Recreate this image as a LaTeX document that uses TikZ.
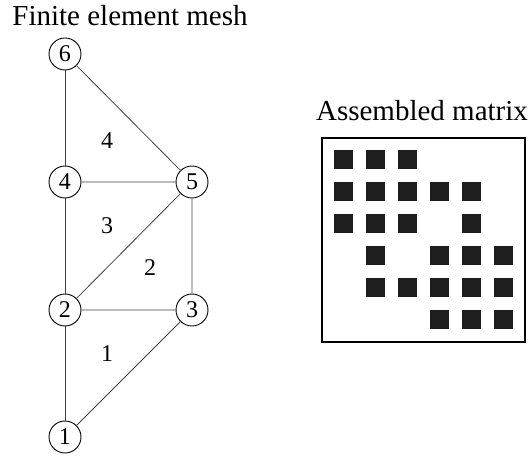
\documentclass[tikz,border=0pt]{standalone}
\usepackage{fontspec}
\setmainfont{Liberation Serif}
\usepackage{tikz}
\tikzset{vertex/.style={draw, circle, minimum size=32pt, inner sep=0pt, line width=0.9pt, font=\fontsize{24}{28}\selectfont}}
\tikzset{edge/.style={line width=0.8pt, draw=black!75}}
\definecolor{darkblock}{RGB}{30,30,30}

\begin{document}
\begin{tikzpicture}[x=1pt, y=-1pt]
\useasboundingbox (0,0) rectangle (531,457);
\node at (130, 16) {\fontsize{29}{34}\selectfont Finite element mesh};
\node[vertex] (n6) at (65, 54) {6};
\node[vertex] (n4) at (65, 182) {4};
\node[vertex] (n5) at (192, 182) {5};
\node[vertex] (n2) at (65, 310) {2};
\node[vertex] (n3) at (192, 310) {3};
\node[vertex] (n1) at (65, 437) {1};
\draw[edge] (n6) -- (n4) -- (n2) -- (n1);
\draw[edge] (n6) -- (n5);
\draw[edge] (n4) -- (n5) -- (n3) -- (n2) -- (n5);
\draw[edge] (n1) -- (n3);
\node[font=\fontsize{24}{28}\selectfont] (e4) at (107, 141) {4};
\node[font=\fontsize{24}{28}\selectfont] (e3) at (107, 226) {3};
\node[font=\fontsize{24}{28}\selectfont] (e2) at (150, 268) {2};
\node[font=\fontsize{24}{28}\selectfont] (e1) at (107, 354) {1};
\node at (422, 111) {\fontsize{29}{34}\selectfont Assembled matrix};
\draw[line width=1.6pt] (322, 138) rectangle (525, 342);
\foreach \c/\r in {1/1,2/1,3/1, 1/2,2/2,3/2,4/2,5/2, 1/3,2/3,3/3,5/3, 2/4,4/4,5/4,6/4, 2/5,3/5,4/5,5/5,6/5, 4/6,5/6,6/6}
  \fill[darkblock] ({334+(\c-1)*32}, {150+(\r-1)*32}) rectangle +(19, 19);
\end{tikzpicture}
\end{document}
